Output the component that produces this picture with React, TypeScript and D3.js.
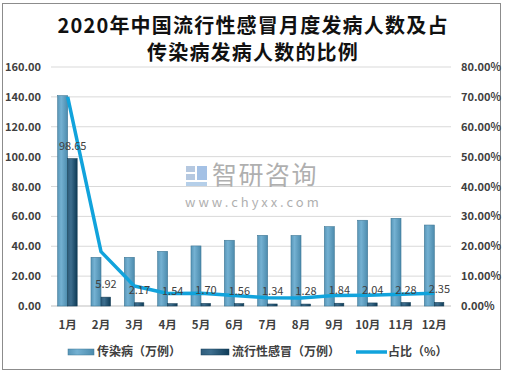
import React from "react";
import * as d3 from "d3";

const months = ["1月", "2月", "3月", "4月", "5月", "6月", "7月", "8月", "9月", "10月", "11月", "12月"];
const infectious = [140.8, 32.6, 32.6, 36.6, 40.2, 44.0, 47.3, 47.2, 53.1, 57.4, 58.7, 54.2];
const flu = [98.65, 5.92, 2.17, 1.54, 1.7, 1.56, 1.34, 1.28, 1.84, 2.04, 2.28, 2.35];
const ratio = [70.0, 18.2, 6.7, 4.2, 4.3, 3.5, 2.8, 2.7, 3.5, 3.6, 3.9, 4.3];
const leftTicks = [0, 20, 40, 60, 80, 100, 120, 140, 160];
const rightTicks = [0, 10, 20, 30, 40, 50, 60, 70, 80];
const legendLabels = ["传染病（万例）", "流行性感冒（万例）", "占比（%）"];
const titleLines = ["2020年中国流行性感冒月度发病人数及占", "传染病发病人数的比例"];

const W = 507;
const H = 377;
const FONT = "'Noto Sans CJK SC', 'Noto Sans', sans-serif";

export default function App() {
  const x = d3.scaleBand<string>().domain(months).range([51, 451]).padding(0);
  const yL = d3.scaleLinear().domain([0, 160]).range([306, 67]);
  const yR = d3.scaleLinear().domain([0, 80]).range([306, 67]);
  const cx = (m: string) => (x(m) as number) + x.bandwidth() / 2;
  const bw = 10;
  const line = d3
    .line<number>()
    .x((_, i) => cx(months[i]))
    .y((d) => yR(d));

  return (
    <div style={{ position: "absolute", left: 0, top: 0 }}>
      <svg width={W} height={H} style={{ display: "block", background: "#fff" }}>
        <defs>
          <linearGradient id="g1" x1="0" x2="1" y1="0" y2="0">
            <stop offset="0" stopColor="#5896b8" />
            <stop offset="0.35" stopColor="#74b1d2" />
            <stop offset="1" stopColor="#4c8bad" />
          </linearGradient>
          <linearGradient id="g2" x1="0" x2="1" y1="0" y2="0">
            <stop offset="0" stopColor="#2f5d7c" />
            <stop offset="0.35" stopColor="#3d6e8e" />
            <stop offset="1" stopColor="#0e3b57" />
          </linearGradient>
        </defs>
        <rect x={2.5} y={3.5} width={498} height={366} fill="#fff" stroke="#8c8c8c" strokeWidth={1} />

        {titleLines.map((t, i) => (
          <text
            key={t}
            x={253}
            y={33 + i * 27}
            textAnchor="middle"
            fontFamily={FONT}
            fontWeight="bold"
            fontSize={20}
            letterSpacing={1.2}
            fill="#111"
          >
            {t}
          </text>
        ))}

        {leftTicks.map((t) => (
          <g key={t}>
            <line x1={51} x2={451} y1={yL(t)} y2={yL(t)} stroke={t === 0 ? "#bfbfbf" : "#d9d9d9"} strokeWidth={1} />
            <text x={41} y={yL(t) + 4} textAnchor="end" fontFamily={FONT} fontSize={11} fontWeight={600} fill="#404040">
              {t.toFixed(2)}
            </text>
          </g>
        ))}
        {rightTicks.map((t) => (
          <text key={t} x={461} y={yR(t) + 4} textAnchor="start" fontFamily={FONT} fontSize={11} fontWeight={600} fill="#404040">
            {t.toFixed(2) + "%"}
          </text>
        ))}

        {/* watermark */}
        <g opacity={0.55}>
          <rect x={186} y={166} width={9} height={6} fill="#7a9cc8" />
          <rect x={186} y={174} width={9} height={6} fill="#7a9cc8" />
          <rect x={186} y={182} width={21} height={4} fill="#7aa8d8" />
          <rect x={197} y={166} width={10} height={14} fill="#5b8fd0" />
          <text x={212} y={184} fontFamily={FONT} fontSize={25} fill="#6e6e6e" letterSpacing={1.5}>
            智研咨询
          </text>
          <text x={185} y={207} fontFamily={FONT} fontSize={13} fill="#6e6e6e" letterSpacing={3}>
            www.chyxx.com
          </text>
        </g>

        {months.map((m, i) => (
          <g key={m}>
            <rect x={cx(m) - bw} y={yL(infectious[i])} width={bw} height={306 - yL(infectious[i])} fill="url(#g1)" stroke="#3f7896" strokeWidth={0.6} />
            <rect x={cx(m)} y={yL(flu[i])} width={bw - 0.5} height={306 - yL(flu[i])} fill="url(#g2)" stroke="#173f57" strokeWidth={0.6} />
          </g>
        ))}

        <path d={line(ratio) as string} fill="none" stroke="#11a3dc" strokeWidth={3.5} strokeLinejoin="round" />

        {months.map((m, i) => (
          <text key={m} x={cx(m) + 5} y={yL(flu[i]) - 9} textAnchor="middle" fontFamily={FONT} fontSize={11} fill="#404040">
            {flu[i].toFixed(2)}
          </text>
        ))}

        {months.map((m) => (
          <text key={m} x={cx(m)} y={329} textAnchor="middle" fontFamily={FONT} fontSize={11.5} fontWeight="bold" fill="#404040">
            {m}
          </text>
        ))}

        {/* legend */}
        <rect x={68} y={349} width={26} height={6} fill="url(#g1)" stroke="#3f7896" strokeWidth={0.5} />
        <text x={97} y={356} fontFamily={FONT} fontSize={12} fontWeight="bold" fill="#404040">{legendLabels[0]}</text>
        <rect x={201} y={349} width={28} height={6} fill="url(#g2)" stroke="#173f57" strokeWidth={0.5} />
        <text x={232} y={356} fontFamily={FONT} fontSize={12} fontWeight="bold" fill="#404040">{legendLabels[1]}</text>
        <line x1={356} x2={387} y1={352} y2={352} stroke="#11a3dc" strokeWidth={3.5} />
        <text x={388} y={356} fontFamily={FONT} fontSize={12} fontWeight="bold" fill="#404040">{legendLabels[2]}</text>
      </svg>
    </div>
  );
}
